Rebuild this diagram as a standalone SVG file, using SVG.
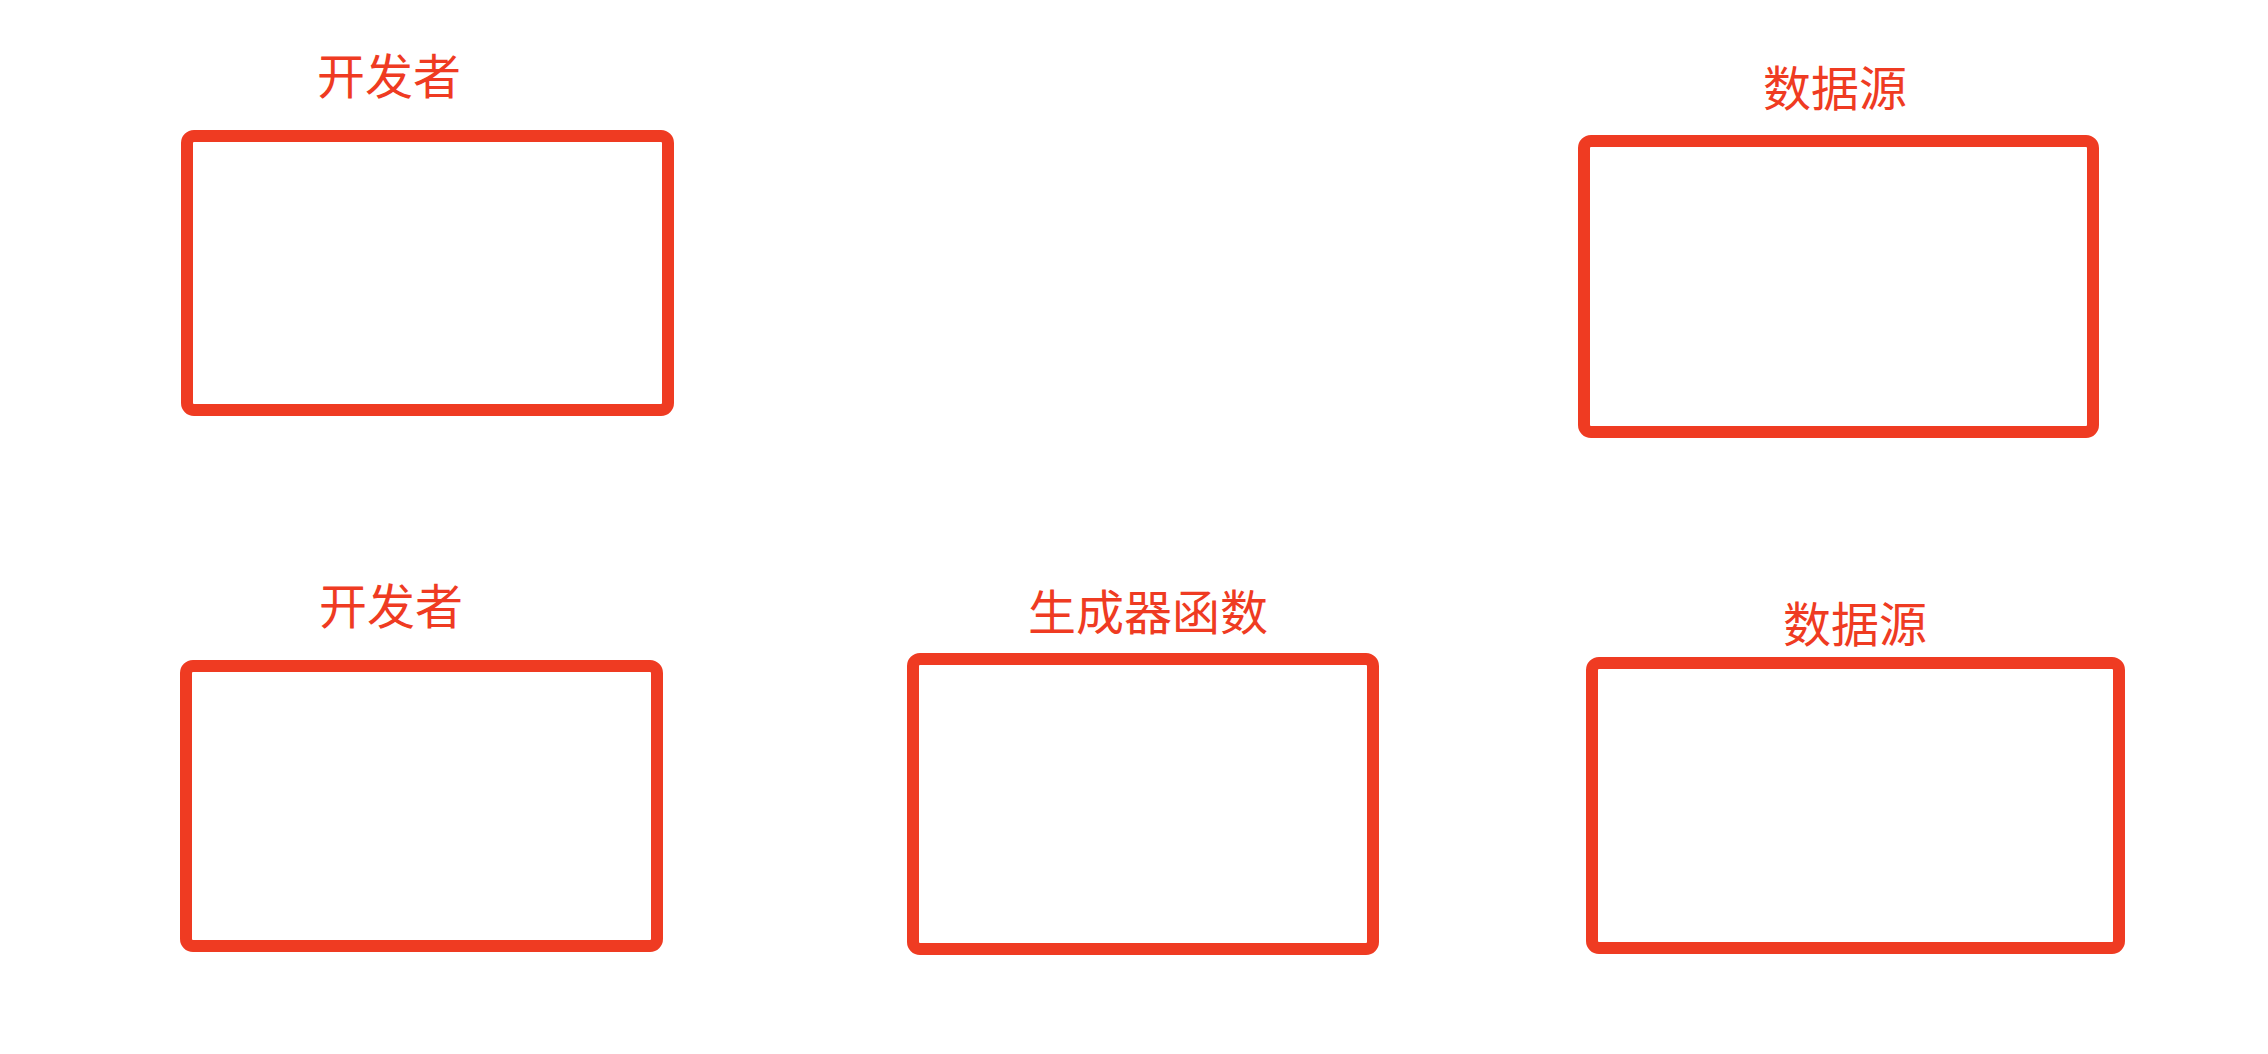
<svg xmlns="http://www.w3.org/2000/svg" width="2268" height="1054" viewBox="0 0 2268 1054">
<style>
.box{fill:#ffffff;stroke:#EF3B22;stroke-width:12}
.lbl{fill:#EF3B22;font-family:"Noto Sans CJK SC","Noto Sans",sans-serif;font-size:48px;text-anchor:middle}
</style>
<rect width="2268" height="1054" fill="#ffffff"/>
<g id="connectors"></g>
<g id="dev1">
<rect class="box" x="187" y="136" width="481" height="274" rx="7"/>
<text class="lbl" x="389" y="94">开发者</text>
</g>
<g id="source1">
<rect class="box" x="1584" y="141" width="509" height="291" rx="7"/>
<text class="lbl" x="1835" y="106">数据源</text>
</g>
<g id="dev2">
<rect class="box" x="186" y="666" width="471" height="280" rx="7"/>
<text class="lbl" x="391" y="624">开发者</text>
</g>
<g id="generator">
<rect class="box" x="913" y="659" width="460" height="290" rx="7"/>
<text class="lbl" x="1148" y="630">生成器函数</text>
</g>
<g id="source2">
<rect class="box" x="1592" y="663" width="527" height="285" rx="7"/>
<text class="lbl" x="1855" y="642">数据源</text>
</g>
</svg>
